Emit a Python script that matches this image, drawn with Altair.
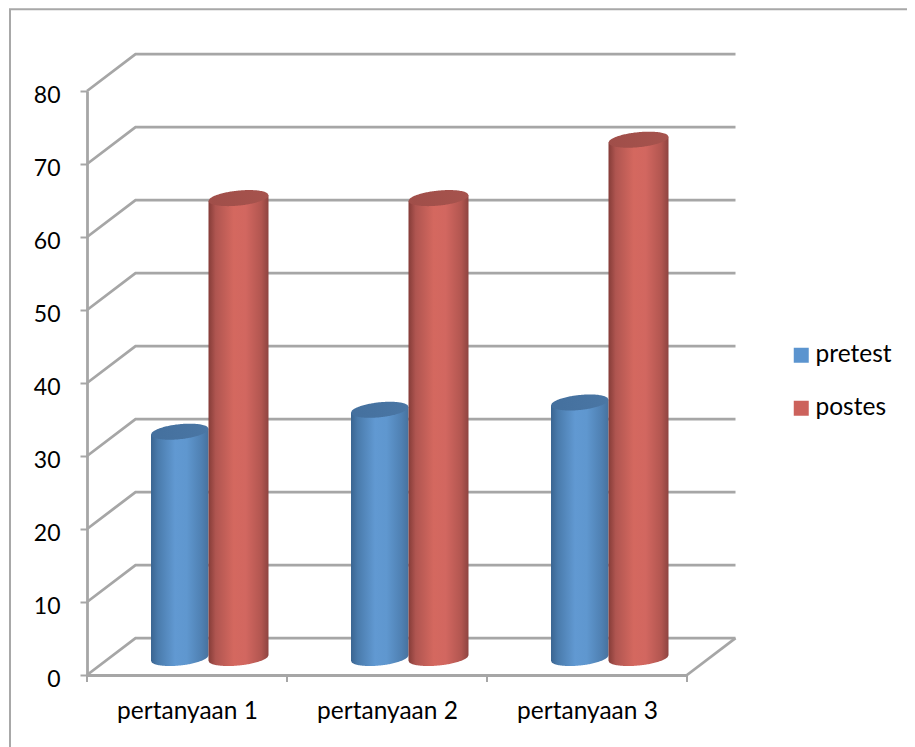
import numpy as np
import pandas as pd
import altair as alt

categories = ["pertanyaan 1", "pertanyaan 2", "pertanyaan 3"]
pretest = [31, 34, 35]
postes = [63, 63, 71]
series_names = ["pretest", "postes"]
y_ticks = [0, 10, 20, 30, 40, 50, 60, 70, 80]

GREY = "#A6A6A6"
FONT = "Lato"
DEPTH_U, DEPTH_V = 0.2425, 5.05     # back wall offset, in axis units
BASE_V = 2.33                       # cylinder base centre sits mid-floor
CAP_B = 1.03                        # ellipse half height
TILT = 0.39                         # ellipse tilt


def grad(stops):
    return {"gradient": "linear", "x1": 0, "x2": 1, "y1": 0, "y2": 0,
            "stops": [{"offset": o, "color": c} for o, c in stops]}


BLUE_BODY = grad([(0, "#3A6591"), (0.12, "#4A7BAC"), (0.42, "#6199D2"), (0.62, "#5F97CF"),
                  (0.88, "#4F80B2"), (1, "#47729E")])
RED_BODY = grad([(0, "#853C38"), (0.12, "#AF5550"), (0.42, "#D4685F"), (0.62, "#D26760"),
                 (0.88, "#B25650"), (1, "#8E4440")])
BLUE_CAP = grad([(0, "#44709E"), (1, "#4A76A4")])
RED_CAP = grad([(0, "#A04E49"), (1, "#A6534D")])

x_scale = alt.Scale(domain=[0, 3], nice=False, zero=False)
y_scale = alt.Scale(domain=[0, 80], nice=False, zero=False)
X0 = alt.Axis(
    values=[0.5, 1.5, 2.5],
    labelExpr="[" + ",".join(f"'{c}'" for c in categories) + "][floor(datum.value)]",
    ticks=False, grid=False, title=None, domainColor=GREY, domainWidth=2.8,
    labelFont=FONT, labelFontSize=24.5, labelColor="#000000", labelPadding=24,
    labelOverlap=False, labelFlush=False,
)
Y0 = alt.Axis(
    values=y_ticks, grid=False, title=None, domainColor=GREY, domainWidth=2.8,
    tickColor=GREY, tickWidth=2, tickSize=7, labelFont=FONT, labelFontSize=23,
    labelColor="#000000", labelPadding=20, labelOffset=4, labelOverlap=False, labelFlush=False,
)


def X(name, axis=None):
    if axis is None:
        return alt.X(f"{name}:Q", scale=x_scale, title=None)
    return alt.X(f"{name}:Q", scale=x_scale, axis=axis)


def Y(name, axis=None):
    if axis is None:
        return alt.Y(f"{name}:Q", scale=y_scale, title=None)
    return alt.Y(f"{name}:Q", scale=y_scale, axis=axis)


# back wall grid lines
grid_rows = []
for v in y_ticks:
    for order, (u, w) in enumerate([(0, v), (DEPTH_U, v + DEPTH_V), (3 + DEPTH_U, v + DEPTH_V)]):
        grid_rows.append({"level": v, "order": order, "u": u, "v": w})
for order, (u, w) in enumerate([(3, 0), (3 + DEPTH_U, DEPTH_V)]):
    grid_rows.append({"level": -1, "order": order, "u": u, "v": w})
grid = alt.Chart(pd.DataFrame(grid_rows)).mark_line(color=GREY, strokeWidth=2.8, clip=False).encode(
    x=X("u", X0), y=Y("v", Y0), detail="level:N", order="order:Q"
)

# category ticks under floor
tick_df = pd.DataFrame({"u": [0, 1, 2, 3], "v": [0, 0, 0, 0], "v2": [-0.95] * 4})
ticks = alt.Chart(tick_df).mark_rule(color=GREY, strokeWidth=2).encode(x=X("u"), y=Y("v"), y2="v2:Q")

# outer frame
frame_df = pd.DataFrame({"u": [-0.385, -0.385, 4.2], "v": [-10, 91.2, 91.2], "o": [0, 1, 2]})
frame = alt.Chart(frame_df).mark_line(color="#A8A8A8", strokeWidth=2, clip=False).encode(
    x=X("u"), y=Y("v"), order="o:Q"
)


def cylinder_frames(values, left, right):
    body, cap = [], []
    for i, val in enumerate(values):
        l, r = i + left, i + right
        c, a = (l + r) / 2, (r - l) / 2
        for t in np.linspace(-1, 1, 61):
            u = c + a * t
            arc = CAP_B * np.sqrt(max(0.0, 1 - t * t))
            top = val + BASE_V + TILT * t
            base = BASE_V + TILT * t
            body.append({"cat": i, "u": u, "hi": top, "lo": base - arc})
            cap.append({"cat": i, "u": u, "hi": top + arc, "lo": top - arc})
    return pd.DataFrame(body), pd.DataFrame(cap)


def cylinder_layers(values, left, right, body_fill, cap_fill):
    b, c = cylinder_frames(values, left, right)
    lb = alt.Chart(b).mark_area(color=body_fill, clip=False, interpolate="linear").encode(
        x=X("u"), y=Y("hi"), y2="lo:Q", detail="cat:N")
    lc = alt.Chart(c).mark_area(color=cap_fill, clip=False, interpolate="linear").encode(
        x=X("u"), y=Y("hi"), y2="lo:Q", detail="cat:N")
    return [lb, lc]


# legend carrier
legend_df = pd.DataFrame({"series": series_names, "u": [0, 0], "v": [0, 0]})
legend = alt.Chart(legend_df).mark_point(filled=True, shape="square", opacity=0).encode(
    x=X("u"), y=Y("v"),
    color=alt.Color(
        "series:N",
        scale=alt.Scale(domain=series_names, range=["#5B94CF", "#CC625C"]),
        legend=alt.Legend(
            orient="none", legendX=702, legendY=252, title=None, symbolType="square",
            symbolSize=225, symbolOpacity=1, symbolStrokeWidth=0,
            labelFont=FONT, labelFontSize=24.5, labelColor="#000000",
            labelOffset=2, rowPadding=28, padding=0,
        ),
    ),
)

layers = [grid, frame, ticks]
layers += cylinder_layers(pretest, 0.32, 0.6075, BLUE_BODY, BLUE_CAP)
layers += cylinder_layers(postes, 0.6075, 0.9075, RED_BODY, RED_CAP)
layers += [legend]

chart = alt.layer(*layers).properties(
    width=600, height=584,
    autosize=alt.AutoSizeParams(type="none"),
    padding={"left": 79, "top": 83, "right": 220, "bottom": 72},
    background="#FFFFFF",
).configure_view(stroke=None)

chart.save("out.html", embed_options={"renderer": "svg", "actions": False})
